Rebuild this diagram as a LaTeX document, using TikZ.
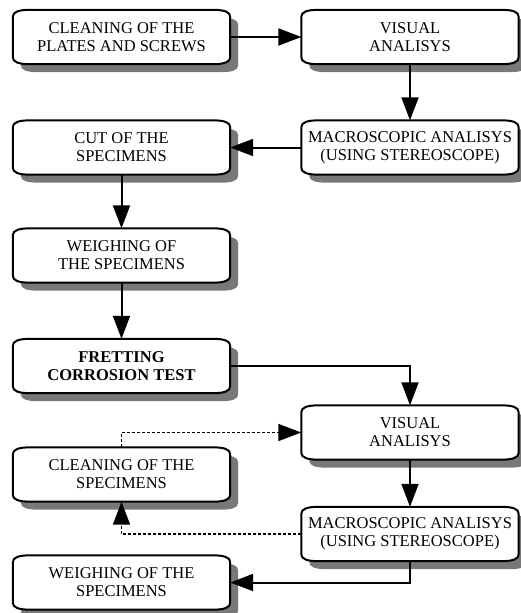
\documentclass[tikz,border=0pt]{standalone}
\usepackage{fontspec}
\setmainfont{LiberationSerif}[Extension=.ttf, UprightFont=*-Regular, BoldFont=*-Bold, ItalicFont=*-Italic, BoldItalicFont=*-BoldItalic]
\usetikzlibrary{arrows.meta,calc,backgrounds}
\definecolor{shadowgray}{RGB}{120,120,120}
\tikzset{
  stepbox/.style={minimum width=217pt, minimum height=54pt, inner sep=0pt, align=center,
    font=\rmfamily\fontsize{16.5}{18}\selectfont},
  conn/.style={line width=2pt, -{Triangle[length=23pt,width=17pt]}},
  dconn/.style={line width=1.6pt, dash pattern=on 3pt off 2pt, -{Triangle[length=23pt,width=17pt]}},
}
\begin{document}
\begin{tikzpicture}[x=1pt,y=-1pt]
\useasboundingbox (0,0) rectangle (521,613);
\node[stepbox] (b1) at (121.5,37) {CLEANING OF THE\\PLATES AND SCREWS};
\node[stepbox] (b2) at (410,37) {VISUAL\\ANALISYS};
\node[stepbox] (b3) at (410,147.5) {MACROSCOPIC ANALISYS\\(USING STEREOSCOPE)};
\node[stepbox] (b4) at (121.5,147.5) {CUT OF THE\\SPECIMENS};
\node[stepbox] (b5) at (121.5,255.5) {WEIGHING OF\\THE SPECIMENS};
\node[stepbox] (b6) at (121.5,366) {\bfseries FRETTING\\\bfseries CORROSION TEST};
\node[stepbox] (b7) at (410,432.5) {VISUAL\\ANALISYS};
\node[stepbox] (b8) at (121.5,474.5) {CLEANING OF THE\\SPECIMENS};
\node[stepbox] (b9) at (410,534) {MACROSCOPIC ANALISYS\\(USING STEREOSCOPE)};
\node[stepbox] (b10) at (121.5,582.5) {WEIGHING OF THE\\SPECIMENS};
\begin{scope}[on background layer]
\foreach \bx in {b1,b2,b3,b4,b5,b6,b7,b8,b9,b10}{
  \fill[shadowgray] let \p1=($(\bx.north west)+(8,8)$), \p2=($(\bx.south east)+(8,8)$) in
    (\x1,\y1-7pt) .. controls (\x1,\y1-2pt) and (\x1+6pt,\y1) .. (\x1+18pt,\y1)
    -- (\x2-18pt,\y1) .. controls (\x2-6pt,\y1) and (\x2,\y1-2pt) .. (\x2,\y1-7pt)
    -- (\x2,\y2+7pt) .. controls (\x2,\y2+2pt) and (\x2-6pt,\y2) .. (\x2-18pt,\y2)
    -- (\x1+18pt,\y2) .. controls (\x1+6pt,\y2) and (\x1,\y2+2pt) .. (\x1,\y2+7pt) -- cycle;
  \draw[line width=2pt, fill=white] let \p1=(\bx.north west), \p2=(\bx.south east) in
    (\x1,\y1-7pt) .. controls (\x1,\y1-2pt) and (\x1+6pt,\y1) .. (\x1+18pt,\y1)
    -- (\x2-18pt,\y1) .. controls (\x2-6pt,\y1) and (\x2,\y1-2pt) .. (\x2,\y1-7pt)
    -- (\x2,\y2+7pt) .. controls (\x2,\y2+2pt) and (\x2-6pt,\y2) .. (\x2-18pt,\y2)
    -- (\x1+18pt,\y2) .. controls (\x1+6pt,\y2) and (\x1,\y2+2pt) .. (\x1,\y2+7pt) -- cycle;
}
\end{scope}
\draw[conn] (b1.east) -- (b2.west);
\draw[conn] (b2.south) -- (b3.north);
\draw[conn] (b3.west) -- (b4.east);
\draw[conn] (b4.south) -- (b5.north);
\draw[conn] (b5.south) -- (b6.north);
\draw[conn] (b6.east) -| (b7.north);
\draw[conn] (b7.south) -- (b9.north);
\draw[dconn] (b8.north) |- (b7.west);
\draw[dconn] (b9.west) -| (b8.south);
\draw[conn] (b9.south) |- (b10.east);
\end{tikzpicture}
\end{document}
